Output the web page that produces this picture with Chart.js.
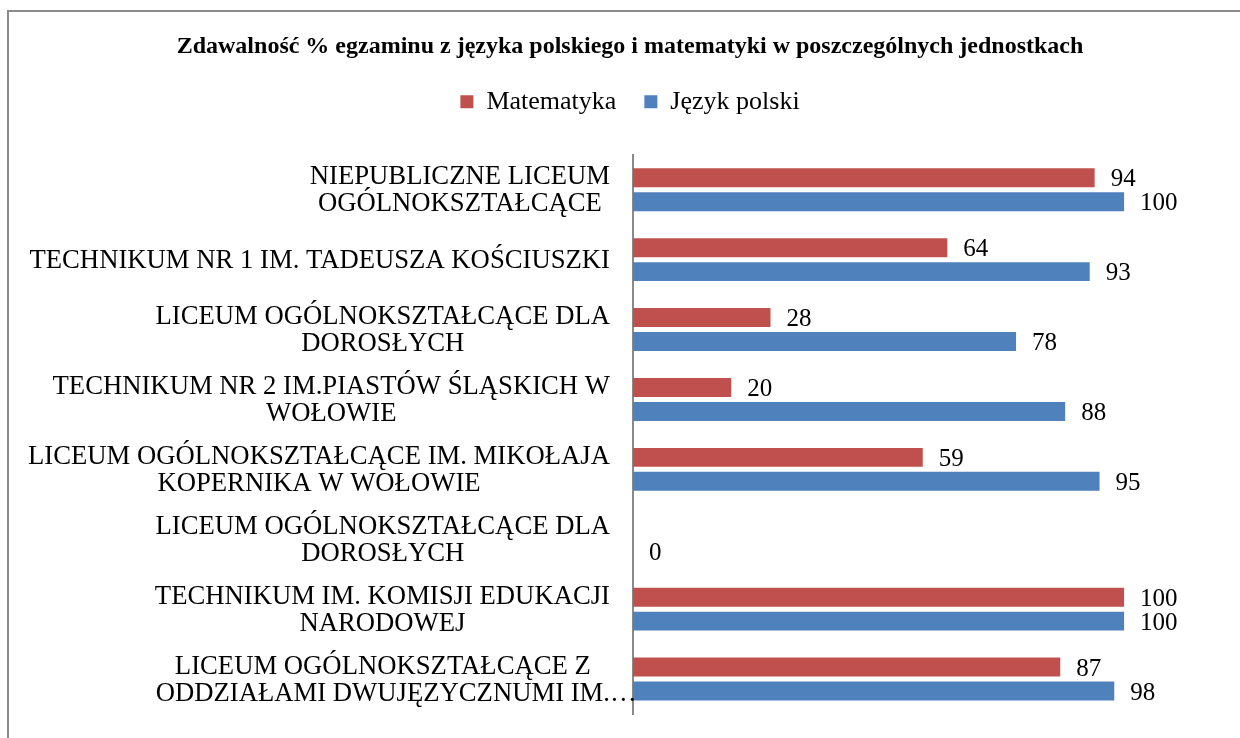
<!DOCTYPE html>
<html>
<head>
<meta charset="utf-8">
<script src="https://cdn.jsdelivr.net/npm/chart.js@4/dist/chart.umd.min.js"></script>
<style>
  html, body { margin: 0; padding: 0; background: #fff; overflow: hidden; }
  #ramka { position: absolute; left: 7px; top: 10px; width: 1300px; height: 800px; border: 2px solid #8a8a8a; }
  #wrap { position: absolute; left: 0; top: 0; width: 1240px; height: 738px; }
</style>
</head>
<body>
<div id="ramka"></div>
<div id="wrap"><canvas id="wykres"></canvas></div>
<script>
// Dane
const jednostki = [
    ['NIEPUBLICZNE LICEUM', 'OGÓLNOKSZTAŁCĄCE'],
    ['TECHNIKUM NR 1 IM. TADEUSZA KOŚCIUSZKI'],
    ['LICEUM OGÓLNOKSZTAŁCĄCE DLA', 'DOROSŁYCH'],
    ['TECHNIKUM NR 2 IM.PIASTÓW ŚLĄSKICH W', 'WOŁOWIE'],
    ['LICEUM OGÓLNOKSZTAŁCĄCE IM. MIKOŁAJA', 'KOPERNIKA W WOŁOWIE'],
    ['LICEUM OGÓLNOKSZTAŁCĄCE DLA', 'DOROSŁYCH'],
    ['TECHNIKUM IM. KOMISJI EDUKACJI', 'NARODOWEJ'],
    ['LICEUM OGÓLNOKSZTAŁCĄCE Z', 'ODDZIAŁAMI DWUJĘZYCZNUMI IM.…']
];
const matematyka = [94, 64, 28, 20, 59, null, 100, 87];
const jezykPolski = [100, 93, 78, 88, 95, 0, 100, 98];

const CZCIONKA = '"Liberation Serif", "Times New Roman", serif';

// Etykiety osi Y: blok wyrównany do prawej, linie wyśrodkowane
const etykietyY = {
    id: 'etykietyY',
    afterDraw(chart) {
        const ctx = chart.ctx;
        const skala = chart.scales.y;
        const prawo = chart.chartArea.left - 23;
        const wysLinii = 27;
        ctx.save();
        ctx.font = '26.7px ' + CZCIONKA;
        ctx.fillStyle = '#000';
        ctx.textBaseline = 'middle';
        ctx.textAlign = 'left';
        jednostki.forEach((linie, i) => {
            const y = skala.getPixelForTick(i);
            const szer = linie.map(l => ctx.measureText(l.replace('…', '')).width);
            const maxW = Math.max(...szer);
            const srodek = prawo - maxW / 2;
            const y0 = y - (linie.length - 1) * wysLinii / 2;
            linie.forEach((l, j) => {
                ctx.fillText(l, srodek - szer[j] / 2, y0 + j * wysLinii + 1);
            });
        });
        ctx.restore();
    }
};

// Wartości przy końcach słupków
const wartosci = {
    id: 'wartosci',
    afterDatasetsDraw(chart) {
        const ctx = chart.ctx;
        ctx.save();
        ctx.font = '25px ' + CZCIONKA;
        ctx.fillStyle = '#000';
        ctx.textBaseline = 'middle';
        ctx.textAlign = 'left';
        chart.data.datasets.forEach((ds, d) => {
            chart.getDatasetMeta(d).data.forEach((el, i) => {
                if (ds.data[i] === null) return;
                ctx.fillText(String(ds.data[i]), el.x + 16, el.y + 2);
            });
        });
        ctx.restore();
    }
};

new Chart(document.getElementById('wykres'), {
    type: 'bar',
    data: {
        labels: jednostki,
        datasets: [
            {
                label: 'Matematyka',
                data: matematyka,
                backgroundColor: '#C0504D',
                categoryPercentage: 0.686,
                barPercentage: 0.79
            },
            {
                label: 'Język polski',
                data: jezykPolski,
                backgroundColor: '#4F81BD',
                categoryPercentage: 0.686,
                barPercentage: 0.79
            }
        ]
    },
    options: {
        indexAxis: 'y',
        responsive: true,
        maintainAspectRatio: false,
        animation: false,
        layout: { padding: { top: 0, right: 0, bottom: 24, left: 20 } },
        scales: {
            x: {
                position: 'top',
                min: 0,
                max: 123.6,
                grid: { display: false },
                border: { display: false },
                ticks: { display: false },
                afterFit(skala) { skala.height = 30; }
            },
            y: {
                grid: { display: false },
                border: { display: true, color: '#8a8a8a', width: 2 },
                ticks: { display: false },
                afterFit(skala) { skala.width = 613; }
            }
        },
        plugins: {
            title: {
                display: true,
                text: 'Zdawalność % egzaminu z języka polskiego i matematyki w poszczególnych jednostkach',
                color: '#000',
                font: { family: CZCIONKA, size: 24, weight: 'bold' },
                padding: { top: 32, bottom: 0 }
            },
            legend: {
                labels: {
                    color: '#000',
                    boxWidth: 13,
                    boxHeight: 13,
                    padding: 28,
                    font: { family: CZCIONKA, size: 26 }
                }
            },
            tooltip: { enabled: false }
        }
    },
    plugins: [etykietyY, wartosci]
});
</script>
</body>
</html>
